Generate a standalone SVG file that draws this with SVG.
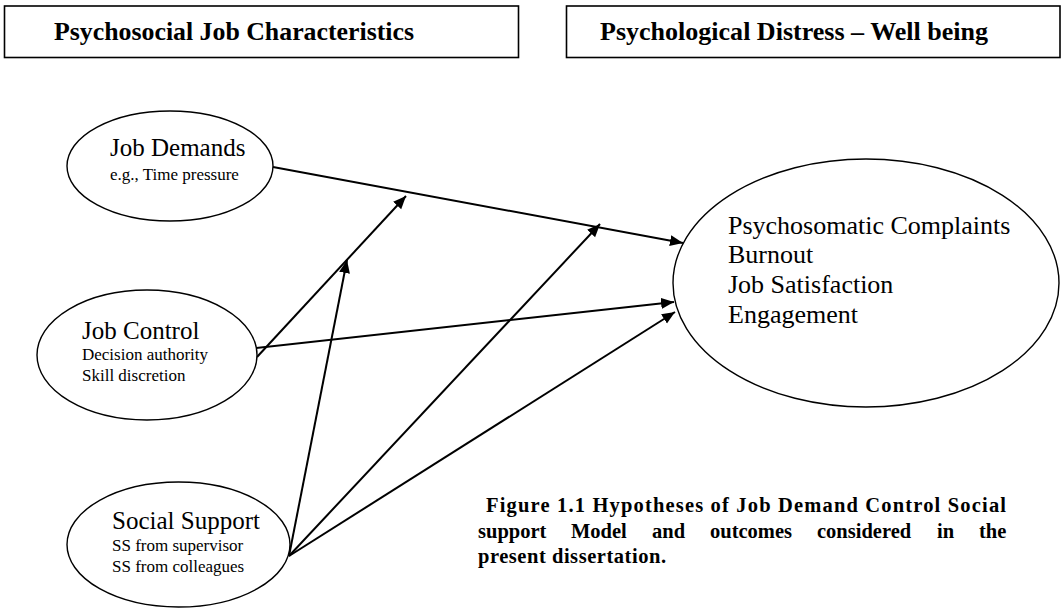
<svg xmlns="http://www.w3.org/2000/svg" width="1063" height="608" viewBox="0 0 1063 608">
<style>
.box{fill:#fff;stroke:#000;stroke-width:1.6}
.hdr{font-family:"Liberation Serif",serif;font-weight:bold;font-size:25px;fill:#000}
.node{fill:#fff;stroke:#000;stroke-width:1.4}
.t1{font-family:"Liberation Serif",serif;font-size:25px;fill:#000}
.t2{font-family:"Liberation Serif",serif;font-size:17px;fill:#000}
.t3{font-family:"Liberation Serif",serif;font-size:26px;fill:#000}
.cap{font-family:"Liberation Serif",serif;font-weight:bold;font-size:20.5px;fill:#000}
.edge{stroke:#000;stroke-width:2;fill:none;marker-end:url(#ah)}
</style>
<defs>
<marker id="ah" markerUnits="userSpaceOnUse" markerWidth="14" markerHeight="12" refX="13" refY="5.5" orient="auto">
<path d="M0,0 L13,5.5 L0,11 Z" fill="#000"/>
</marker>
<clipPath id="ssclip"><rect x="100" y="500" width="160" height="40"/></clipPath>
</defs>
<rect width="1063" height="608" fill="#fff"/>
<g id="header-left">
<rect class="box" x="4.5" y="6" width="514" height="51.5"/>
<text class="hdr" x="54" y="40" textLength="360" lengthAdjust="spacingAndGlyphs">Psychosocial Job Characteristics</text>
</g>
<g id="header-right">
<rect class="box" x="566.5" y="6" width="493.5" height="51.5"/>
<text class="hdr" x="600" y="40" textLength="388" lengthAdjust="spacingAndGlyphs">Psychological Distress – Well being</text>
</g>
<g id="connectors">
<line class="edge" x1="273" y1="167" x2="683" y2="243"/>
<line class="edge" x1="239" y1="350" x2="674" y2="302"/>
<line class="edge" x1="257" y1="357" x2="406" y2="196"/>
<line class="edge" x1="289" y1="556" x2="347" y2="260"/>
<line class="edge" x1="289" y1="556" x2="600" y2="224"/>
<line class="edge" x1="289" y1="556" x2="675" y2="312"/>
</g>
<g id="job-demands">
<ellipse class="node" cx="170" cy="166" rx="103" ry="55"/>
<text class="t1" x="110" y="156">Job Demands</text>
<text class="t2" x="110" y="180">e.g., Time pressure</text>
</g>
<g id="job-control">
<ellipse class="node" cx="147" cy="355" rx="110" ry="65"/>
<text class="t1" x="82" y="339">Job Control</text>
<text class="t2" x="82" y="360">Decision authority</text>
<text class="t2" x="82" y="381">Skill discretion</text>
</g>
<g id="social-support">
<ellipse class="node" cx="178.5" cy="544.5" rx="111.5" ry="62.5"/>
<text class="t1" x="112" y="529" clip-path="url(#ssclip)">Social Support</text>
<text class="t2" x="112" y="551">SS from supervisor</text>
<text class="t2" x="112" y="572">SS from colleagues</text>
</g>
<g id="outcomes">
<ellipse class="node" cx="866" cy="283" rx="193" ry="124"/>
<text class="t3" x="728" y="234">Psychosomatic Complaints</text>
<text class="t3" x="728" y="263">Burnout</text>
<text class="t3" x="728" y="293">Job Satisfaction</text>
<text class="t3" x="728" y="323">Engagement</text>
</g>
<g id="caption">
<text class="cap" x="486" y="512" textLength="520" lengthAdjust="spacing">Figure 1.1 Hypotheses of Job Demand Control Social</text>
<text class="cap" y="538"><tspan x="478">support</tspan><tspan x="571">Model</tspan><tspan x="652">and</tspan><tspan x="710">outcomes</tspan><tspan x="817">considered</tspan><tspan x="937">in</tspan><tspan x="979">the</tspan></text>
<text class="cap" x="478" y="563" textLength="188" lengthAdjust="spacing">present dissertation.</text>
</g>
</svg>
